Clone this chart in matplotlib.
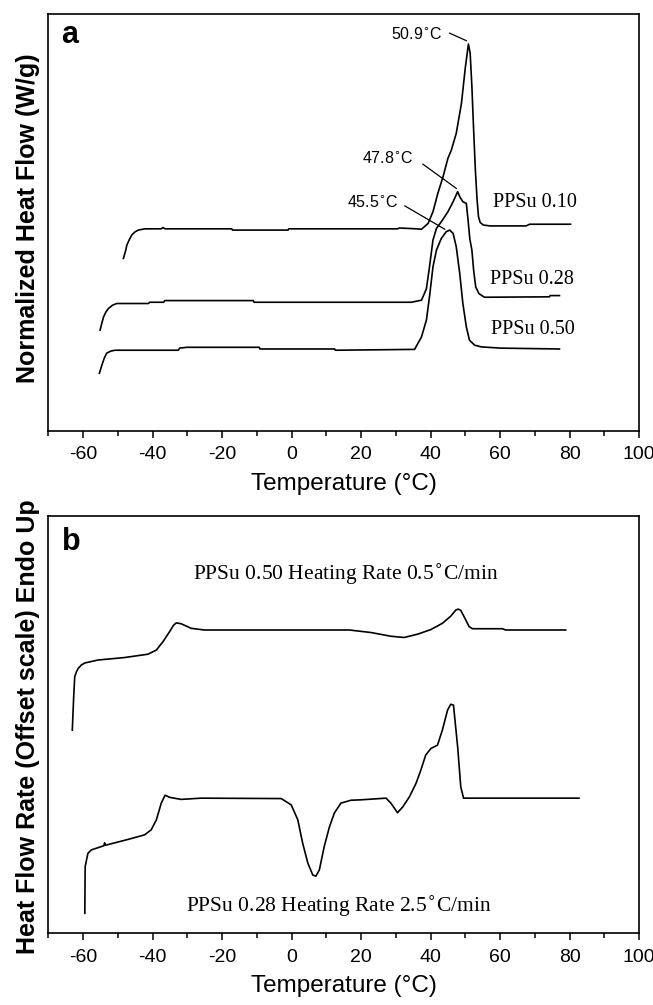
import matplotlib
matplotlib.use("Agg")
import matplotlib.pyplot as plt
from matplotlib.ticker import MultipleLocator

plt.rcParams["font.family"] = ["Liberation Sans", "DejaVu Sans"]

# ---- Panel a: normalized heat flow of three PPSu samples ----
t_010 = [-48.4, -47.8, -47.4, -46.7, -46.0, -45.0, -44.1, -42.2, -37.5, -37.0, -36.4, -17.2,
         -17.0, -1.0, -0.8, 30.5, 31.0, 36.0, 37.4, 39.3, 40.7, 42.1, 43.6, 45.0, 46.0, 47.4,
         48.9, 50.0, 50.9, 51.4, 51.9, 52.4, 52.9, 53.4, 53.8, 54.3, 55.2, 57.2, 67.5, 68.5, 80.3]
y_010 = [4.13, 4.30, 4.45, 4.58, 4.69, 4.77, 4.81, 4.84, 4.84, 4.87, 4.84, 4.84,
         4.81, 4.81, 4.84, 4.84, 4.86, 4.84, 4.83, 4.97, 5.25, 5.69, 6.09, 6.53, 6.73, 7.13,
         7.85, 8.70, 9.27, 9.05, 8.25, 7.21, 6.25, 5.53, 5.13, 4.99, 4.93, 4.91, 4.91, 4.95, 4.95]

t_028 = [-55.1, -54.6, -54.1, -53.4, -52.7, -51.5, -50.3, -41.2, -40.8, -36.8, -36.5, -11.0,
         -10.8, 34.5, 37.4, 38.8, 39.7, 40.7, 41.7, 43.1, 45.0, 46.5, 47.8, 48.4, 49.3, 50.3,
         50.8, 51.3, 51.9, 52.4, 53.0, 53.9, 55.5, 74.2, 74.4, 77.1]
y_028 = [2.41, 2.58, 2.73, 2.85, 2.93, 3.01, 3.05, 3.05, 3.08, 3.08, 3.12, 3.12,
         3.08, 3.08, 3.13, 3.40, 3.93, 4.57, 4.85, 5.01, 5.25, 5.49, 5.73, 5.61, 5.49, 5.45,
         5.05, 4.60, 4.33, 3.85, 3.45, 3.29, 3.20, 3.21, 3.24, 3.24]

t_050 = [-55.3, -54.6, -53.9, -53.2, -52.0, -50.8, -32.6, -32.2, -30.2, -9.3, -9.1, 12.4,
         12.6, 35.4, 37.4, 38.8, 39.7, 40.7, 41.7, 43.1, 44.5, 45.5, 46.5, 47.4, 48.4, 49.3,
         50.3, 51.2, 52.7, 54.6, 60.3, 77.1]
y_050 = [1.38, 1.57, 1.74, 1.86, 1.91, 1.93, 1.93, 1.98, 2.00, 2.00, 1.96, 1.96,
         1.93, 1.95, 2.25, 2.65, 3.21, 3.93, 4.33, 4.61, 4.77, 4.81, 4.73, 4.41, 3.77, 3.05,
         2.49, 2.17, 2.05, 2.01, 1.98, 1.96]

peak_labels = ["50.9", "47.8", "45.5"]
series_labels = ["PPSu 0.10", "PPSu 0.28", "PPSu 0.50"]

# ---- Panel b: two heating rates ----
t_slow = [-63.1, -62.7, -62.4, -61.9, -61.4, -60.5, -59.5, -55.7, -48.0, -41.3, -38.9, -37.0,
          -35.1, -34.0, -33.2, -31.8, -28.9, -25.1, 16.6, 22.8, 28.6, 32.4, 36.3, 40.1, 43.4,
          45.8, 47.3, 48.0, 48.7, 49.9, 51.1, 52.1, 60.7, 61.6, 78.9]
y_slow = [4.87, 5.67, 6.15, 6.27, 6.35, 6.43, 6.48, 6.55, 6.61, 6.69, 6.79, 6.99,
          7.23, 7.38, 7.44, 7.42, 7.31, 7.27, 7.27, 7.21, 7.12, 7.09, 7.17, 7.28, 7.43,
          7.60, 7.75, 7.77, 7.74, 7.55, 7.35, 7.30, 7.30, 7.27, 7.27]

t_fast = [-59.5, -59.4, -58.6, -57.6, -54.0, -53.8, -53.6, -47.1, -42.3, -40.4, -38.9, -37.5,
          -36.4, -35.1, -31.8, -26.0, -3.0, -0.1, 1.8, 3.2, 4.7, 6.1, 7.0, 8.0, 9.4, 10.9,
          12.3, 14.2, 17.1, 20.0, 27.2, 28.6, 30.5, 32.0, 33.9, 35.8, 37.2, 38.6, 40.1, 42.0,
          43.4, 44.9, 45.8, 46.6, 47.8, 48.7, 49.5, 82.7]
y_fast = [0.48, 1.60, 1.92, 2.00, 2.10, 2.17, 2.11, 2.25, 2.36, 2.48, 2.72, 3.12,
          3.31, 3.26, 3.21, 3.24, 3.23, 3.08, 2.72, 2.16, 1.68, 1.40, 1.37, 1.52, 2.08, 2.55,
          2.88, 3.12, 3.19, 3.20, 3.24, 3.12, 2.89, 3.03, 3.27, 3.59, 3.91, 4.27, 4.43, 4.51,
          4.87, 5.35, 5.49, 5.47, 4.47, 3.51, 3.24, 3.24]

rate_labels = ["PPSu 0.50 Heating Rate 0.5$^{\\circ}$C/min",
               "PPSu 0.28 Heating Rate 2.5$^{\\circ}$C/min"]

x_ticks = [-60, -40, -20, 0, 20, 40, 60, 80, 100]

fig = plt.figure(figsize=(6.53, 10.05), dpi=100)
ax_a = fig.add_axes([0.074, 0.5714, 0.9046, 0.4151])
ax_b = fig.add_axes([0.074, 0.0713, 0.9046, 0.4152])

LW = 1.2
serif = ["Liberation Serif", "DejaVu Serif"]


def style_axis(ax):
    ax.set_xlim(-70, 100)
    ax.set_ylim(0, 10)
    ax.set_xticks(x_ticks)
    ax.set_xticklabels([str(v) for v in x_ticks])
    ax.xaxis.set_minor_locator(MultipleLocator(10))
    ax.set_yticks([])
    ax.tick_params(axis="x", which="major", direction="out", length=5, width=1.1,
                   labelsize=14, pad=6)
    ax.tick_params(axis="x", which="minor", direction="out", length=3.6, width=1.1)
    for s in ax.spines.values():
        s.set_linewidth(1.2)
    ax.set_xlabel("Temperature (°C)", fontsize=17.5, labelpad=7)


# Panel a
style_axis(ax_a)
ax_a.plot(t_010, y_010, color="black", lw=LW)
ax_a.plot(t_028, y_028, color="black", lw=LW)
ax_a.plot(t_050, y_050, color="black", lw=LW)
ax_a.set_ylabel("Normalized Heat Flow (W/g)", fontsize=18, fontweight="bold", labelpad=6)
ax_a.yaxis.label.set_y(0.51)
ax_a.text(-66.4, 9.29, "a", fontsize=22, fontweight="bold", ha="left", va="baseline")

# Peak temperature callouts
ax_a.text(43.4, 9.40, peak_labels[0] + "$^{\\circ}$C", fontsize=11.5, ha="right", va="baseline")
ax_a.plot([45.5, 50.3], [9.53, 9.35], color="black", lw=0.9)
ax_a.text(35.0, 6.42, peak_labels[1] + "$^{\\circ}$C", fontsize=11.5, ha="right", va="baseline")
ax_a.plot([37.8, 47.4], [6.39, 5.81], color="black", lw=0.9)
ax_a.text(30.7, 5.37, peak_labels[2] + "$^{\\circ}$C", fontsize=11.5, ha="right", va="baseline")
ax_a.plot([32.6, 44.1], [5.39, 4.83], color="black", lw=0.9)

ax_a.text(58.0, 5.37, series_labels[0], fontsize=14.5, family=serif, va="baseline")
ax_a.text(57.0, 3.52, series_labels[1], fontsize=14.5, family=serif, va="baseline")
ax_a.text(57.5, 2.33, series_labels[2], fontsize=14.5, family=serif, va="baseline")

# Panel b
style_axis(ax_b)
ax_b.plot(t_slow, y_slow, color="black", lw=LW)
ax_b.plot(t_fast, y_fast, color="black", lw=LW)
ax_b.set_ylabel("Heat Flow Rate (Offset scale) Endo Up", fontsize=18, fontweight="bold",
                labelpad=6)
ax_b.yaxis.label.set_y(0.495)
ax_b.text(-66.0, 9.19, "b", fontsize=22, fontweight="bold", ha="left", va="baseline")
ax_b.text(-28.4, 8.47, rate_labels[0], fontsize=15.5, family=serif, va="baseline")
ax_b.text(-30.3, 0.52, rate_labels[1], fontsize=15.5, family=serif, va="baseline")

fig.savefig("out.png", dpi=100)
